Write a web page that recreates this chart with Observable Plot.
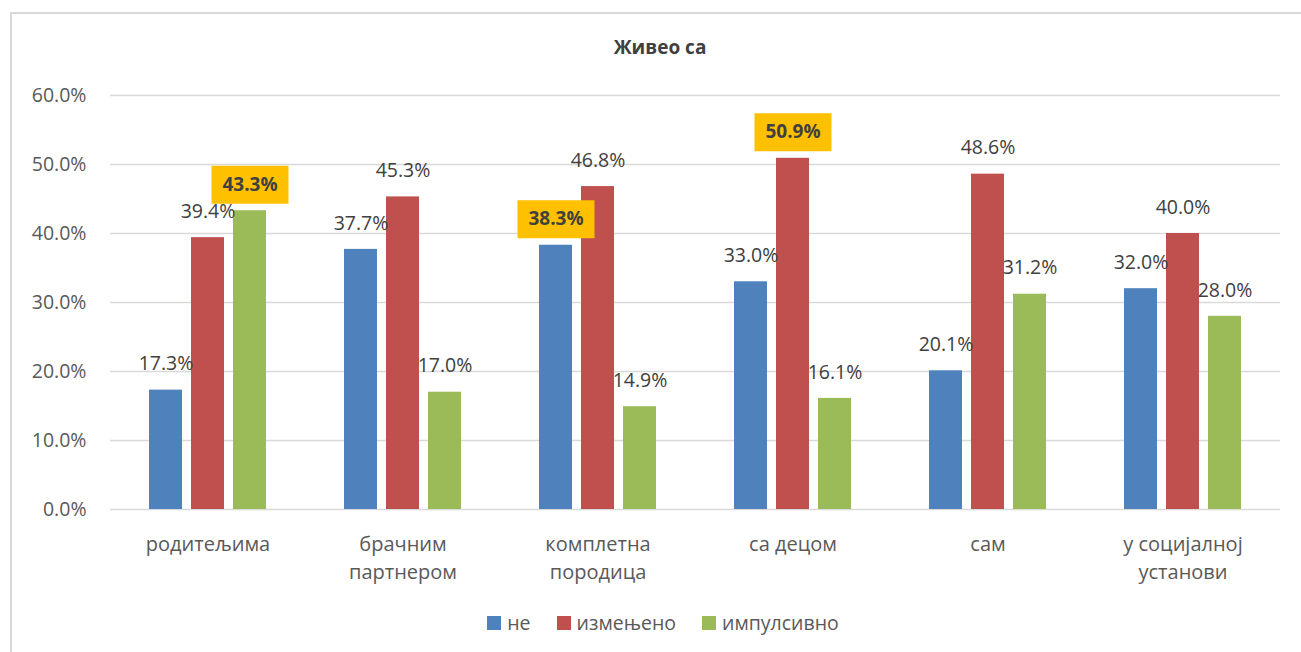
<!DOCTYPE html>
<html>
<head>
<meta charset="utf-8">
<script src="https://cdn.jsdelivr.net/npm/d3@7"></script>
<script src="https://cdn.jsdelivr.net/npm/@observablehq/plot@0.6"></script>
<style>
  html, body { margin: 0; padding: 0; background: #fff; }
  body { width: 1301px; height: 652px; position: relative; overflow: hidden; font-family: "Open Sans", sans-serif; }
  #frame { position: absolute; left: 10px; top: 12px; width: 1320px; height: 700px; border: 2px solid #d9d9d9; box-sizing: border-box; }
  #title { position: absolute; left: 0; width: 1320px; top: 34px; text-align: center; font-weight: bold; font-size: 19px; color: #404040; }
  #chart { position: absolute; left: 0; top: 0; }
  #legend { position: absolute; top: 609px; left: 0; width: 1326px; display: flex; justify-content: center; gap: 26px; font-size: 19.5px; color: #595959; }
  .item { display: flex; align-items: center; gap: 6px; }
  .sw { width: 14px; height: 14px; display: inline-block; }
</style>
</head>
<body>
<div id="frame"></div>
<div id="title">Живео са</div>
<div id="chart"></div>
<div id="legend"></div>
<script>
const categories = ["родитељима", "брачним партнером", "комплетна породица", "са децом", "сам", "у социјалној установи"];
const categoryLabels = ["родитељима", "брачним\nпартнером", "комплетна\nпородица", "са децом", "сам", "у социјалној\nустанови"];
const series = ["не", "измењено", "импулсивно"];
const colors = ["#4F81BD", "#C0504D", "#9BBB59"];
const valuesNe = [17.3, 37.7, 38.3, 33.0, 20.1, 32.0];
const valuesIzmenjeno = [39.4, 45.3, 46.8, 50.9, 48.6, 40.0];
const valuesImpulsivno = [43.3, 17.0, 14.9, 16.1, 31.2, 28.0];
const highlights = [["родитељима", "импулсивно"], ["комплетна породица", "не"], ["са децом", "измењено"]];
const yTicks = [0, 10, 20, 30, 40, 50, 60];

const seriesValues = [valuesNe, valuesIzmenjeno, valuesImpulsivno];
const data = categories.flatMap((c, i) => series.map((s, j) => ({category: c, series: s, value: seriesValues[j][i]})));
const isHl = d => highlights.some(h => h[0] === d.category && h[1] === d.series);
const hlData = data.filter(isHl);
const normalData = data.filter(d => !isHl(d));
const fmt = v => v.toFixed(1) + "%";
const boxSymbol = {draw(ctx) { ctx.rect(-38.5, -19, 77, 38); }};

const FONT = "'Open Sans', sans-serif";
const chart = Plot.plot({
  width: 1301,
  height: 600,
  marginTop: 95,
  marginBottom: 91,
  marginLeft: 110,
  marginRight: 21,
  style: {background: "none", fontFamily: FONT, overflow: "visible"},
  fx: {domain: categories, padding: 0, axis: null, label: null},
  x: {domain: series, paddingInner: 0.209, paddingOuter: 0.872, axis: null, label: null},
  y: {domain: [0, 60], axis: null, label: null},
  color: {domain: series, range: colors},
  marks: [
    Plot.gridY(yTicks, {stroke: "#d9d9d9", strokeOpacity: 1, strokeWidth: 1.5}),
    Plot.axisY(yTicks, {tickSize: 0, tickPadding: 24, tickFormat: fmt, fontSize: 19.5, fill: "#595959", label: null}),
    Plot.barY(data, {fx: "category", x: "series", y: "value", fill: "series"}),
    Plot.text(normalData, {fx: "category", x: "series", y: "value", text: d => fmt(d.value), dy: -26, fontSize: 19.5, fill: "#404040"}),
    Plot.dot(hlData, {fx: "category", x: "series", y: "value", symbol: boxSymbol, fill: "#FFC000", stroke: "none", dy: -26}),
    Plot.text(hlData, {fx: "category", x: "series", y: "value", text: d => fmt(d.value), dy: -26, fontSize: 19, fontWeight: "bold", fill: "#404040"}),
    Plot.axisFx({anchor: "bottom", tickSize: 0, tickPadding: 22, fontSize: 20, lineHeight: 1.4, fill: "#595959", label: null,
      tickFormat: c => categoryLabels[categories.indexOf(c)]})
  ]
});
document.getElementById("chart").appendChild(chart);

const legend = document.getElementById("legend");
series.forEach((s, i) => {
  const item = document.createElement("div");
  item.className = "item";
  const sw = document.createElement("span");
  sw.className = "sw";
  sw.style.background = colors[i];
  const t = document.createElement("span");
  t.textContent = s;
  item.appendChild(sw);
  item.appendChild(t);
  legend.appendChild(item);
});
</script>
</body>
</html>
